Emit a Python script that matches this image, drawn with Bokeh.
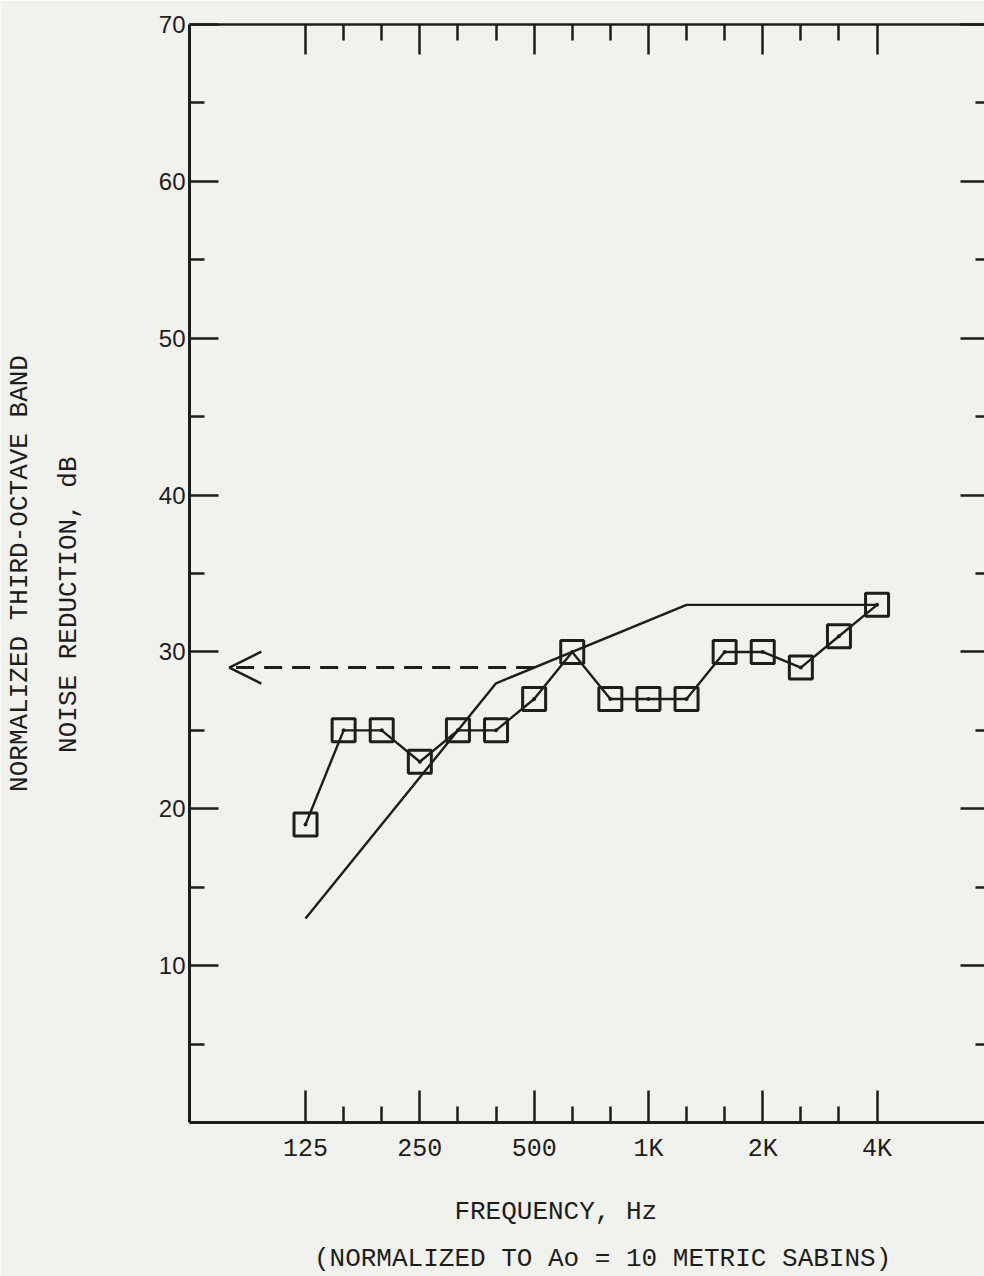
from bokeh.plotting import figure
from bokeh.models import FixedTicker, LinearAxis, Range1d, Arrow, OpenHead
from bokeh.embed import file_html
from bokeh.resources import INLINE

# ---------------- data ----------------
bands = ["125", "160", "200", "250", "315", "400", "500", "630", "800",
         "1K", "1.25K", "1.6K", "2K", "2.5K", "3.15K", "4K"]
measured_nr = [19, 25, 25, 23, 25, 25, 27, 30, 27, 27, 27, 30, 30, 29, 31, 33]
contour_bands = ["125", "400", "1.25K", "4K"]
contour_nr = [13, 28, 33, 33]
rating_band = "500"
rating_value = 29
x_tick_labels = ["125", "250", "500", "1K", "2K", "4K"]
y_tick_labels = [10, 20, 30, 40, 50, 60, 70]
y_minor = [5, 15, 25, 35, 45, 55, 65]
x_title = "FREQUENCY, Hz"
x_subtitle = "(NORMALIZED TO Ao = 10 METRIC SABINS)"
y_title_outer = "NORMALIZED THIRD-OCTAVE BAND"
y_title_inner = "NOISE REDUCTION, dB"

# ---------------- style ----------------
INK = "#1d1d1b"
BG = "#f1f1ed"
MONO = "Liberation Mono"
SANS = "Liberation Sans"
NB = "\u00a0"  # non-breaking space used to nudge centred titles

x_start, x_end = -3.045, 17.82

p = figure(width=984, height=1276, x_range=Range1d(x_start, x_end), y_range=Range1d(0, 70),
           output_backend="svg", toolbar_location=None,
           x_axis_location=None, y_axis_location=None,
           min_border_left=189, min_border_right=0, min_border_top=24, min_border_bottom=153,
           background_fill_color=BG, border_fill_color=BG, outline_line_color=None)
p.grid.visible = False

band_idx = {b: i for i, b in enumerate(bands)}
major_x = [band_idx[b] for b in x_tick_labels]
minor_x = [i for i in range(len(bands)) if i not in major_x]


def xticker():
    return FixedTicker(ticks=major_x, minor_ticks=minor_x)


def yticker():
    return FixedTicker(ticks=y_tick_labels, minor_ticks=y_minor)


tick_style = dict(major_tick_out=0, minor_tick_out=0,
                  major_tick_line_width=2.5, minor_tick_line_width=2.5,
                  major_tick_line_color=INK, minor_tick_line_color=INK)
title_style = dict(axis_label_text_font=MONO, axis_label_text_font_size="26px",
                   axis_label_text_font_style="normal", axis_label_text_color=INK)
hidden = dict(axis_line_color=None, major_tick_line_color=None, minor_tick_line_color=None,
              major_label_text_font_size="0px", major_tick_in=0, major_tick_out=0,
              minor_tick_in=0, minor_tick_out=0, major_label_standoff=0)

bottom = LinearAxis(ticker=xticker(),
                    major_label_overrides={band_idx[b]: b for b in x_tick_labels},
                    major_tick_in=32, minor_tick_in=16,
                    axis_line_width=3, axis_line_color=INK,
                    major_label_standoff=12, major_label_text_font=MONO,
                    major_label_text_font_size="25px", major_label_text_color=INK,
                    axis_label=x_title + NB * 4, axis_label_standoff=30,
                    **tick_style, **title_style)
p.add_layout(bottom, "below")
bottom2 = LinearAxis(ticker=FixedTicker(ticks=[]), axis_label=NB * 2 + x_subtitle,
                     axis_label_standoff=14, **hidden, **title_style)
p.add_layout(bottom2, "below")

top = LinearAxis(ticker=xticker(), major_label_overrides={i: "" for i in major_x},
                 major_tick_in=30, minor_tick_in=16,
                 axis_line_width=2.5, axis_line_color=INK,
                 major_label_text_font_size="1px", major_label_standoff=0, **tick_style)
p.add_layout(top, "above")

left = LinearAxis(ticker=yticker(),
                  major_tick_in=29, minor_tick_in=15,
                  axis_line_width=3, axis_line_color=INK,
                  major_label_standoff=4, major_label_text_font=SANS,
                  major_label_text_font_size="24px", major_label_text_color=INK,
                  axis_label=y_title_inner + NB * 4, axis_label_standoff=72,
                  **tick_style, **title_style)
p.add_layout(left, "left")
left2 = LinearAxis(ticker=FixedTicker(ticks=[]), axis_label=y_title_outer,
                   axis_label_standoff=16, **hidden, **title_style)
p.add_layout(left2, "left")

right = LinearAxis(ticker=yticker(), major_label_overrides={v: "" for v in y_tick_labels},
                   major_tick_in=24, minor_tick_in=9,
                   axis_line_color=None,
                   major_label_text_font_size="1px", major_label_standoff=0, **tick_style)
p.add_layout(right, "right")

# ---------------- marks ----------------
mx = [band_idx[b] for b in bands]
cx = [band_idx[b] for b in contour_bands]

p.line(cx, contour_nr, line_width=2.4, line_color=INK)
p.line(mx, measured_nr, line_width=2.4, line_color=INK)
p.scatter(mx, measured_nr, marker="square", size=23, fill_color=None,
          line_color=INK, line_width=3)
p.scatter(mx, measured_nr, marker="circle", size=4, fill_color=INK, line_color=None)

p.add_layout(Arrow(end=OpenHead(size=32, line_width=2.5, line_color=INK),
                   x_start=band_idx[rating_band], y_start=rating_value,
                   x_end=-2.0, y_end=rating_value,
                   line_width=3, line_color=INK, line_dash="18 10"))

open("out.html", "w").write(file_html(p, INLINE))
